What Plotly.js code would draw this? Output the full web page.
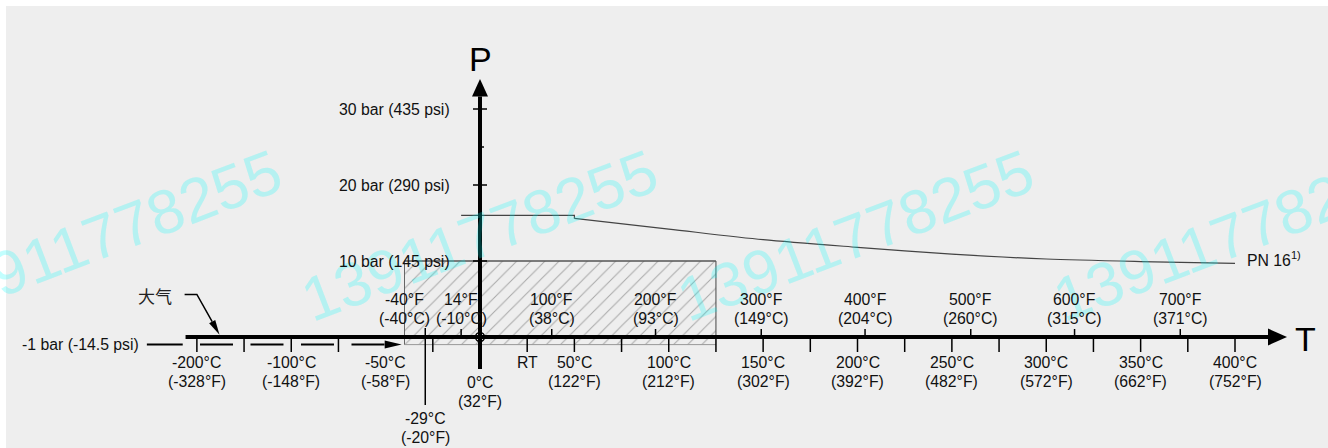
<!DOCTYPE html>
<html>
<head>
<meta charset="utf-8">
<script src="https://cdn.plot.ly/plotly-3.0.1.min.js"></script>
<style>html,body{margin:0;padding:0;background:#fff;}</style>
</head>
<body>
<div id="chart" style="width:1328px;height:448px"></div>
<script>
// ---------------- data ----------------
const pTickBar = [10, 20, 30];
const pTickLabels = ['10 bar (145 psi)', '20 bar (290 psi)', '30 bar (435 psi)'];
const pMinorBar = [25];
const vacuumBar = -1;
const vacuumLabel = '-1 bar (-14.5 psi)';

const cLabelTemps = [-200, -100, -50, 50, 100, 150, 200, 250, 300, 350, 400];
const cLabelTop = ['-200°C', '-100°C', '-50°C', '50°C', '100°C', '150°C', '200°C', '250°C', '300°C', '350°C', '400°C'];
const cLabelBottom = ['(-328°F)', '(-148°F)', '(-58°F)', '(122°F)', '(212°F)', '(302°F)', '(392°F)', '(482°F)', '(572°F)', '(662°F)', '(752°F)'];
const cTickTemps = [-200, -150, -100, -75, -25, 25, 50, 75, 100, 125, 150, 175, 200, 225, 250, 275, 300, 325, 350, 375, 400];

const zeroTemp = 0;
const zeroLabel = ['0°C', '(32°F)'];
const rtTemp = 25;
const rtLabel = 'RT';
const minTemp = -29;
const minLabel = ['-29°C', '(-20°F)'];

const fTemps = [-40, -10, 38, 93, 149, 204, 260, 315, 371];
const fLabels = ['-40°F', '14°F', '100°F', '200°F', '300°F', '400°F', '500°F', '600°F', '700°F'];
const fLabelsC = ['(-40°C)', '(-10°C)', '(38°C)', '(93°C)', '(149°C)', '(204°C)', '(260°C)', '(315°C)', '(371°C)'];

const pn16FlatTemps = [-10, 50, 50];
const pn16FlatBar = [16, 16, 15.6];
const pn16Temps = [50, 100, 150, 200, 250, 300, 350, 400];
const pn16Bar = [15.6, 14.2, 12.8, 11.8, 10.9, 10.26, 9.93, 9.7];
const pn16Label = 'PN 16<sup>1)</sup>';

const boxTemps = [-40, 125];
const boxBar = [-1, 10];

const atmLabel = '大气';
const watermark = '13911778255';

// ---------------- geometry ----------------
const W = 1328, H = 448;
const PX_PER_DEG = 1.8875, PX_PER_BAR = 7.6, ORIGIN_X = 480, ORIGIN_Y = 337;
const xRange = [-ORIGIN_X / PX_PER_DEG, (W - ORIGIN_X) / PX_PER_DEG];
const yRange = [-(H - ORIGIN_Y) / PX_PER_BAR, ORIGIN_Y / PX_PER_BAR];
// broken temperature scale: below -100 °C the axis is compressed by half
function pos(t) { return t >= -100 ? t : -100 + (t + 100) / 2; }
function hx(px) { return px / PX_PER_DEG; }
function vy(px) { return px / PX_PER_BAR; }

const FONT = 'Liberation Sans, Arial, Helvetica, sans-serif';
const FS = 15.8;

const shapes = [];
const annotations = [];
const traces = [];

function seg(x0, y0, x1, y1, color, width, dash) {
  shapes.push({type: 'line', xref: 'x', yref: 'y', x0: x0, y0: y0, x1: x1, y1: y1,
    line: {color: color, width: width, dash: dash || 'solid'}, layer: 'above'});
}
function label(x, y, text, o) {
  o = o || {};
  annotations.push({xref: 'x', yref: 'y', x: x, y: y, text: text, showarrow: false,
    xanchor: o.xanchor || 'center', yanchor: 'middle',
    xshift: o.xshift || 0, yshift: o.yshift || 0,
    font: {family: o.family || FONT, size: o.size || FS, color: o.color || '#111'}});
}
function arrowHead(tipX, tipY, angDeg, len, halfW) {
  const a = angDeg * Math.PI / 180;
  const dx = Math.cos(a), dy = Math.sin(a);
  const bx = -len * dx, by = -len * dy;
  const px = -dy * halfW, py = dx * halfW;
  const xs = [tipX, tipX + hx(bx + px), tipX + hx(bx - px), tipX];
  const ys = [tipY, tipY + vy(by + py), tipY + vy(by - py), tipY];
  traces.push({type: 'scatter', mode: 'lines', x: xs, y: ys, fill: 'toself', fillcolor: '#000',
    line: {width: 0, color: '#000'}, hoverinfo: 'skip', showlegend: false});
  return {x: tipX + hx(bx), y: tipY + vy(by)};
}

// background panel
shapes.push({type: 'rect', xref: 'paper', yref: 'paper', x0: 6 / W, x1: 1, y0: 0, y1: 1 - 6 / H,
  fillcolor: '#eeeeee', line: {width: 0}, layer: 'below'});

// hatched region
traces.push({type: 'scatter', mode: 'lines',
  x: [pos(boxTemps[0]), pos(boxTemps[1]), pos(boxTemps[1]), pos(boxTemps[0]), pos(boxTemps[0])],
  y: [boxBar[0], boxBar[0], boxBar[1], boxBar[1], boxBar[0]],
  fill: 'toself', fillcolor: 'rgba(0,0,0,0)',
  fillpattern: {shape: '/', size: 10, solidity: 0.1, fgcolor: '#a8a8a8', bgcolor: 'rgba(0,0,0,0)'},
  line: {width: 0}, hoverinfo: 'skip', showlegend: false});
seg(pos(boxTemps[0]), boxBar[0], pos(boxTemps[1]), boxBar[0], '#999', 1);
seg(pos(boxTemps[0]), boxBar[0], pos(boxTemps[0]), boxBar[1], '#666', 1);
seg(pos(boxTemps[1]), 0, pos(boxTemps[1]), boxBar[1], '#444', 1);
seg(pos(boxTemps[0]), boxBar[1], pos(boxTemps[1]), boxBar[1], '#555', 1.5);

// PN16 curve
traces.push({type: 'scatter', mode: 'lines', x: pn16FlatTemps.map(pos), y: pn16FlatBar,
  line: {color: '#444', width: 1.2}, hoverinfo: 'skip', showlegend: false});
traces.push({type: 'scatter', mode: 'lines', x: pn16Temps.map(pos), y: pn16Bar,
  line: {color: '#444', width: 1.2, shape: 'spline', smoothing: 0.8}, hoverinfo: 'skip', showlegend: false});

// T axis
const tTip = hx(W - 41 - ORIGIN_X);
const tBase = arrowHead(tTip, 0, 0, 19, 8.5);
seg(pos(-212), 0, tBase.x, 0, '#000', 4);
// P axis
const pTip = vy(ORIGIN_Y - 79);
const pBase = arrowHead(0, pTip, 90, 17.5, 8);
seg(0, vy(-32), 0, pBase.y, '#000', 4);

// ticks below T axis
cTickTemps.forEach(t => seg(pos(t), 0, pos(t), vy(-15), '#000', 1.5));
// ticks above T axis (°F)
fTemps.slice(1).forEach(t => seg(pos(t), 0, pos(t), vy(8), '#000', 1.5));
// -29 °C line
seg(pos(minTemp), vy(9), pos(minTemp), vy(-68), '#000', 1.5);

// P ticks
pTickBar.forEach(b => seg(hx(-7), b, hx(7), b, '#000', 1.5));
pMinorBar.forEach(b => seg(hx(-2), b, hx(4), b, '#000', 1.5));

// vacuum line
seg(pos(-253), vacuumBar, pos(-215), vacuumBar, '#000', 2);
const vTip = pos(-41.5);
const vBase = arrowHead(vTip, vacuumBar, 0, 17, 4);
seg(pos(-196.7), vacuumBar, vBase.x, vacuumBar, '#000', 2, '33px,17.5px');

// atmosphere leader
const atmStart = {x: pos(-213), y: 5.6}, atmCorner = {x: pos(-200), y: 5.6};
const atmTip = {x: pos(-176), y: 0.3};
const ang = Math.atan2((atmTip.y - atmCorner.y) * PX_PER_BAR, (atmTip.x - atmCorner.x) * PX_PER_DEG) * 180 / Math.PI;
const aBase = arrowHead(atmTip.x, atmTip.y, ang, 15, 3.5);
traces.push({type: 'scatter', mode: 'lines', x: [atmStart.x, atmCorner.x, aBase.x], y: [atmStart.y, atmCorner.y, aBase.y],
  line: {color: '#000', width: 1.5}, hoverinfo: 'skip', showlegend: false});

// origin
traces.push({type: 'scatter', mode: 'markers', x: [0], y: [0],
  marker: {symbol: 'circle-open', size: 9, color: '#000', line: {width: 1.5, color: '#000'}},
  hoverinfo: 'skip', showlegend: false});

// watermark
[103, 479, 855, 1231].forEach(cx => annotations.push({xref: 'paper', yref: 'paper', x: cx / W, y: 1 - 235 / H,
  text: watermark, textangle: -21, showarrow: false, xanchor: 'center', yanchor: 'middle',
  font: {family: FONT, size: 62, color: 'rgba(0,250,250,0.24)'}}));

// labels
cLabelTemps.forEach((t, i) => {
  label(pos(t), 0, cLabelTop[i], {yshift: -25.5});
  label(pos(t), 0, cLabelBottom[i], {yshift: -44.7});
});
label(pos(zeroTemp), 0, zeroLabel[0], {yshift: -45.3});
label(pos(zeroTemp), 0, zeroLabel[1], {yshift: -64});
label(pos(rtTemp), 0, rtLabel, {yshift: -25.5});
label(pos(minTemp), 0, minLabel[0], {yshift: -81.3});
label(pos(minTemp), 0, minLabel[1], {yshift: -100});
fTemps.forEach((t, i) => {
  label(pos(t), 0, fLabels[i], {yshift: 37.3});
  label(pos(t), 0, fLabelsC[i], {yshift: 18.7});
});
pTickBar.forEach((b, i) => label(0, b, pTickLabels[i], {xanchor: 'right', xshift: -28}));
label(pos(-253), vacuumBar, vacuumLabel, {xanchor: 'right', xshift: -6});
label(atmStart.x, atmStart.y, atmLabel, {xanchor: 'right', xshift: -11, yshift: -1.4,
  family: 'Noto Sans CJK SC, sans-serif', size: 17, color: '#222'});
label(pos(400), pn16Bar[pn16Bar.length - 1], pn16Label, {xanchor: 'left', xshift: 10, yshift: 4});
label(0, pTip, 'P', {yshift: 20, size: 34, color: '#000'});
label(tTip, 0, 'T', {xshift: 18, yshift: -1.7, size: 34, color: '#000'});

const layout = {
  width: W, height: H, margin: {l: 0, r: 0, t: 0, b: 0, pad: 0},
  paper_bgcolor: '#ffffff', plot_bgcolor: 'rgba(0,0,0,0)',
  xaxis: {range: xRange, visible: false, fixedrange: true},
  yaxis: {range: yRange, visible: false, fixedrange: true},
  showlegend: false, shapes: shapes, annotations: annotations
};
Plotly.newPlot('chart', traces, layout, {staticPlot: true, displayModeBar: false});
</script>
</body>
</html>
